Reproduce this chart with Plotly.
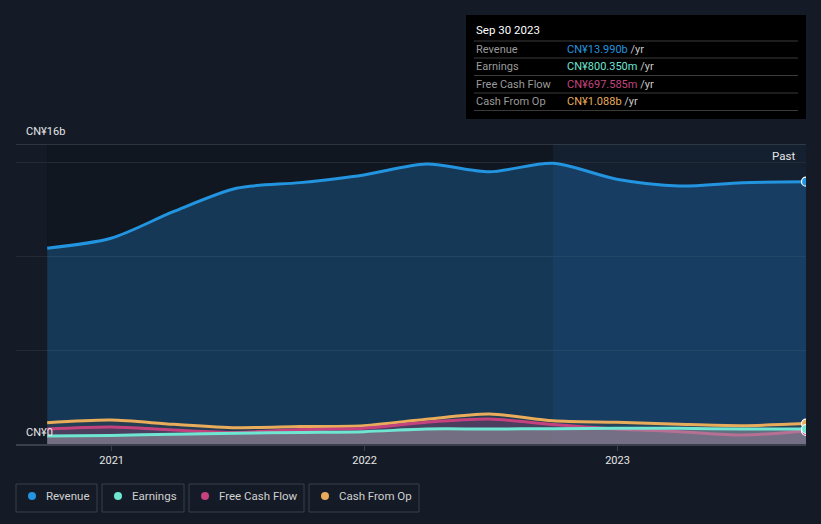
import plotly.graph_objects as go

dates = ["2020-09-30", "2020-12-31", "2021-03-31", "2021-06-30", "2021-09-30",
         "2021-12-31", "2022-03-31", "2022-06-30", "2022-09-30", "2022-12-31",
         "2023-03-31", "2023-06-30", "2023-09-30"]
revenue = [10.44, 10.97, 12.39, 13.64, 13.94, 14.35, 14.93, 14.52, 14.97, 14.12, 13.76, 13.94, 13.99]
earnings = [0.43, 0.46, 0.52, 0.57, 0.62, 0.66, 0.80, 0.80, 0.82, 0.84, 0.84, 0.80, 0.80035]
fcf = [0.80, 0.91, 0.75, 0.62, 0.77, 0.84, 1.16, 1.33, 1.04, 0.80, 0.66, 0.48, 0.697585]
cfo = [1.14, 1.28, 1.05, 0.87, 0.93, 0.98, 1.32, 1.60, 1.24, 1.16, 1.05, 0.98, 1.088]

year_ticks = ["2021-01-01", "2022-01-01", "2023-01-01"]
year_labels = ["2021", "2022", "2023"]
legend_names = ["Revenue", "Earnings", "Free Cash Flow", "Cash From Op"]
tooltip_title = "Sep 30 2023"
tooltip_values = ["CN¥13.990b", "CN¥800.350m", "CN¥697.585m", "CN¥1.088b"]

C_REV = "#2394df"
C_EARN = "#6ee6d2"
C_FCF = "#c4437f"
C_CFO = "#e8ac5b"
colors = [C_REV, C_EARN, C_FCF, C_CFO]
BG = "#151b26"

W, H = 821, 524
ML, MR, MT, MB = 16, 15, 144, 80
PW = W - ML - MR
PH = H - MT - MB


def px(x):
    return (x - ML) / PW


def py(y):
    return (H - MB - y) / PH


fig = go.Figure()

S = 1e9
series = [
    ("Revenue", revenue, C_REV, "rgba(33,150,243,0.26)"),
    ("Cash From Op", cfo, C_CFO, "rgba(70,75,80,0.35)"),
    ("Free Cash Flow", fcf, C_FCF, "rgba(192,64,127,0.25)"),
    ("Earnings", earnings, C_EARN, "rgba(165,168,172,0.45)"),
]
for name, vals, col, fillc in series:
    yv = [v * S for v in vals]
    fig.add_trace(go.Scatter(
        x=dates, y=yv, mode="lines", name=name,
        line=dict(color=col, width=3, shape="spline", smoothing=0.8),
        fill="tozeroy", fillcolor=fillc, hoverinfo="skip", showlegend=False))
for name, vals, col, fillc in series:
    fig.add_trace(go.Scatter(
        x=[dates[-1]], y=[vals[-1] * S], mode="markers",
        marker=dict(color=col, size=9, line=dict(color="#ffffff", width=1.2)),
        hoverinfo="skip", showlegend=False))

shapes = []
shapes.append(dict(type="rect", xref="x", yref="y", x0=dates[0], x1="2022-09-30",
                   y0=0, y1=16 * S, fillcolor="#111720", line=dict(width=0), layer="below"))
shapes.append(dict(type="rect", xref="x", yref="y", x0="2022-09-30", x1=dates[-1],
                   y0=0, y1=16 * S, fillcolor="#142030", line=dict(width=0), layer="below"))
shapes.append(dict(type="line", xref="paper", yref="y", x0=0, x1=1, y0=16 * S, y1=16 * S,
                   line=dict(color="#3a404b", width=1.5)))

shapes.append(dict(type="rect", xref="paper", yref="paper", x0=px(466), x1=px(806),
                   y0=py(119), y1=py(15), fillcolor="#000000", line=dict(width=0)))
for sy in [41, 58, 75.5, 93, 110.5]:
    shapes.append(dict(type="line", xref="paper", yref="paper", x0=px(474), x1=px(798),
                       y0=py(sy), y1=py(sy), line=dict(color="#3a3a3a", width=1)))

annotations = []
annotations.append(dict(xref="paper", yref="paper", x=px(474), y=py(30), text=tooltip_title,
                        showarrow=False, xanchor="left", yanchor="middle",
                        font=dict(color="#ffffff", size=11.5, family="Roboto")))
row_y = [49, 66.5, 84, 101.5]
for i, (lab, val) in enumerate(zip(legend_names, tooltip_values)):
    annotations.append(dict(xref="paper", yref="paper", x=px(474), y=py(row_y[i]), text=lab,
                            showarrow=False, xanchor="left", yanchor="middle",
                            font=dict(color="#9a9a9a", size=11, family="Roboto")))
    annotations.append(dict(xref="paper", yref="paper", x=px(565), y=py(row_y[i]),
                            text=f"<span style='color:{colors[i]}'>{val}</span>"
                                 f"<span style='color:#c8c8c8'> /yr</span>",
                            showarrow=False, xanchor="left", yanchor="middle",
                            font=dict(size=11, family="Roboto")))

annotations.append(dict(xref="paper", yref="paper", x=px(24), y=py(131), text="CN¥16b",
                        showarrow=False, xanchor="left", yanchor="middle",
                        font=dict(color="#e6e6e6", size=11, family="Roboto")))
annotations.append(dict(xref="paper", yref="paper", x=px(24), y=py(432), text="CN¥0",
                        showarrow=False, xanchor="left", yanchor="middle",
                        font=dict(color="#e6e6e6", size=11, family="Roboto")))
annotations.append(dict(xref="paper", yref="paper", x=px(797), y=py(156), text="Past",
                        showarrow=False, xanchor="right", yanchor="middle",
                        font=dict(color="#e6e6e6", size=11.5, family="Roboto")))

boxes = [(16, 97), (102, 184), (189, 304), (309, 419)]
for i, (x0, x1) in enumerate(boxes):
    shapes.append(dict(type="rect", xref="paper", yref="paper", x0=px(x0), x1=px(x1),
                       y0=py(512), y1=py(484), line=dict(color="#3a404b", width=1),
                       fillcolor="rgba(0,0,0,0)"))
    shapes.append(dict(type="circle", xref="paper", yref="paper",
                       x0=px(x0 + 12), x1=px(x0 + 20), y0=py(500), y1=py(492),
                       fillcolor=colors[i], line=dict(width=0)))
    annotations.append(dict(xref="paper", yref="paper", x=px(x0 + 28), y=py(496),
                            text=legend_names[i], showarrow=False, xanchor="left",
                            yanchor="middle",
                            font=dict(color="#d0d0d0", size=11.5, family="Roboto")))

fig.update_layout(
    width=W, height=H,
    margin=dict(l=ML, r=MR, t=MT, b=MB),
    paper_bgcolor=BG, plot_bgcolor=BG,
    showlegend=False,
    shapes=shapes, annotations=annotations,
    font=dict(family="Roboto", color="#e0e0e0"),
    xaxis=dict(type="date", range=["2020-08-16", "2023-09-30"],
               tickvals=year_ticks, ticktext=year_labels,
               showgrid=False, zeroline=False,
               showline=True, linecolor="#3a404b", linewidth=1.5,
               ticks="outside", ticklen=5, tickcolor="#3a404b",
               tickfont=dict(color="#e6e6e6", size=11, family="Roboto")),
    yaxis=dict(range=[0, 16 * S], tickvals=[5 * S, 10 * S, 15 * S],
               showticklabels=False, showgrid=True, gridcolor="#232a35", gridwidth=1,
               zeroline=False, showline=False, fixedrange=True),
)

fig.write_html(
    "out.html",
    config={"displayModeBar": False},
    post_script="document.body.style.margin='0';document.body.style.padding='0';"
                "document.body.style.background='#151b26';"
                "document.body.style.overflow='hidden';",
)
